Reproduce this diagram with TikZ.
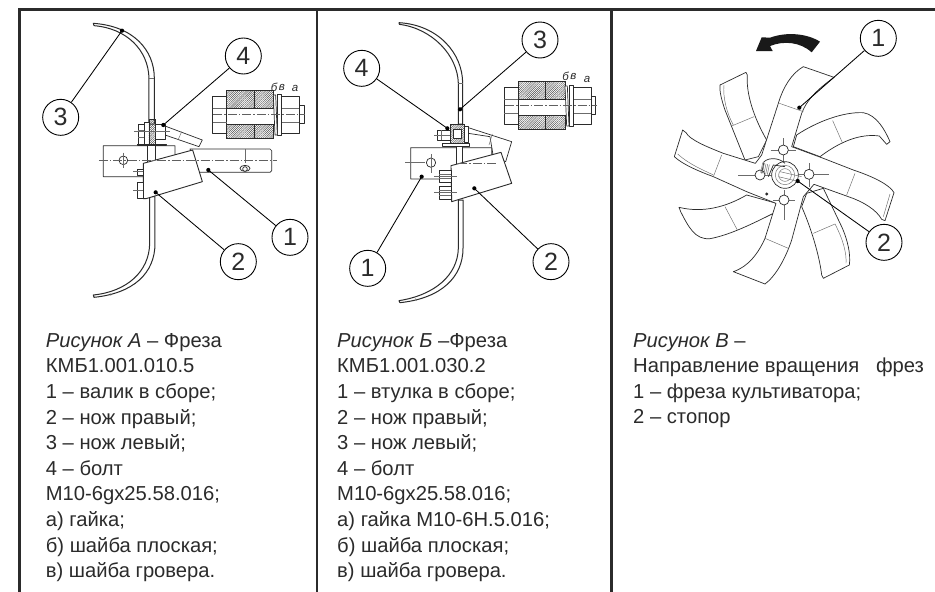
\documentclass[tikz,border=0pt]{standalone}
\usepackage{fontspec}
\setmainfont{Liberation Sans}
\usetikzlibrary{patterns.meta}
\definecolor{ink}{HTML}{2B2B2B}
\tikzset{
  panelA/.style={shift={(0pt,0pt)},x=0.33333pt,y=-0.33333pt},
  panelB/.style={shift={(315pt,0pt)},x=0.33333pt,y=-0.33333pt},
  panelC/.style={shift={(610pt,0pt)},x=0.33333pt,y=-0.33333pt},
  framel/.style={line width=2.4pt,color=ink},
  part/.style={draw=ink,line width=0.7pt,fill=white,line join=round},
  thin part/.style={draw=ink!70,line width=0.45pt},
  centre/.style={draw=ink!75,line width=0.5pt,dash pattern=on 9pt off 2pt on 1.5pt off 2pt},
  callout/.style={circle,draw=black,fill=white,line width=0.9pt,minimum size=36pt,inner sep=0pt,font=\fontsize{25}{26}\selectfont,text=ink},
  pin/.style={circle,fill=black,minimum size=4.2pt,inner sep=0pt},
  leader/.style={draw=black,line width=0.85pt},
  caption/.style={anchor=north west,align=left,inner sep=0pt,text=ink,font=\fontsize{20.2}{25.6}\selectfont},
  hatchblock/.style={draw=ink,line width=0.5pt,pattern={Lines[angle=45,distance=1.5pt,line width=0.45pt]},pattern color=ink!85},
  tiny/.style={font=\fontsize{11.5}{12}\selectfont\itshape,text=ink,inner sep=0pt}
}
\newcommand{\boltsection}{%
  \draw[part] (568,262) rectangle (610,372);
  \draw[thin part] (568,297)--(610,297) (568,340)--(610,340);
  \draw[hatchblock] (610,245) rectangle (692,298);
  \draw[hatchblock] (692,245) rectangle (750,298);
  \draw[hatchblock] (610,345) rectangle (692,388);
  \draw[hatchblock] (692,345) rectangle (750,388);
  \draw[part] (775,262) rectangle (828,372);
  \draw[thin part] (775,297)--(828,297) (775,340)--(828,340);
  \draw[part] (828,288) rectangle (842,342);
  \draw[part] (762,255) rectangle (775,380);
  \draw[part] (750,258) -- (757,258) -- (762,378) -- (755,378) -- cycle;
  \draw[centre] (570,315) -- (846,315);
}
\begin{document}
\begin{tikzpicture}[x=1pt,y=-1pt]
\useasboundingbox (0,0) rectangle (935,592);
\fill[white] (0,0) rectangle (935,592);
% frame
\draw[framel] (19.5,592) -- (19.5,9.5) -- (935,9.5);
\draw[framel] (317,9.5) -- (317,592);
\draw[framel] (611.5,9.5) -- (611.5,592);

% ---------- panel A
\begin{scope}[panelA]
  % section detail
  \begin{scope}[shift={(23.33pt,-9pt)}]
    \boltsection
  \end{scope}
  \node[tiny] (ab) at (822,261) {б};
  \node[tiny] (av) at (846,261) {в};
  \node[tiny] (aa) at (885,265) {а};
  % knife upper
  \draw[part,line width=1pt] (280,70) .. controls (400,78) and (463,150) .. (463,235) -- (463,372) -- (447,372) -- (447,235) .. controls (445,150) and (380,85) .. (282,77) -- cycle;
  \draw[thin part] (447,235) -- (463,235);
  % knife lower
  \draw[part,line width=1pt] (465,590) -- (465,730) .. controls (465,820) and (400,880) .. (282,892) -- (280,885) .. controls (380,875) and (448,815) .. (449,730) -- (449,590) -- cycle;
  \draw[thin part] (330,880) -- (333,887);
  % tilted knife behind
  \draw[part] (495,378) -- (607,420) -- (597,440) -- (495,405) -- cycle;
  \draw[thin part] (545,395) -- (535,418);
  % shaft
  \draw[part] (570,447) -- (810,447) -- (815,452) -- (815,512) -- (810,517) -- (590,517) -- cycle;
  \draw[thin part] (735,447) -- (735,490);
  \draw[part] (735,505) ellipse (15 and 9);
  \draw[part] (735,507) ellipse (7 and 7);
  % bracket
  \draw[part] (310,437) -- (525,437) -- (525,480) -- (430,530) -- (310,530) -- cycle;
  \draw[part] (370,481) circle (13);
  \draw[thin part] (370,458) -- (370,505);
  % central plate and bolt
  \draw[part] (442,435) rectangle (465,495);
  \draw[part] (415,372) rectangle (433,432);
  \draw[thin part] (415,392) -- (433,392) (415,412) -- (433,412);
  \draw[part] (433,368) rectangle (447,432);
  \draw[hatchblock] (447,358) rectangle (465,432);
  \draw[part] (465,372) rectangle (495,418);
  \draw[thin part] (402,395) -- (510,395);
  \draw[part] (412,432) rectangle (500,437);
  % front knife
  \draw[part,line width=0.9pt] (430,490) -- (578,450) -- (607,545) -- (438,596) -- (430,596) -- cycle;
  \draw[part] (413,508) rectangle (430,527);
  \draw[part] (413,548) rectangle (430,595);
  \draw[thin part] (400,515) -- (430,515) (400,570) -- (430,570);
  \draw[centre] (297,482) -- (832,482);
  % callouts
  \node[callout] (a3) at (182,352) {3};
  \node[callout] (a4) at (730,168) {4};
  \node[callout] (a1) at (870,712) {1};
  \node[callout] (a2) at (715,785) {2};
  \node[pin] (a3p) at (366,92) {};
  \node[pin] (a4p) at (490,375) {};
  \node[pin] (a1p) at (625,510) {};
  \node[pin] (a2p) at (467,577) {};
  \draw[leader] (a3) -- (a3p.center);
  \draw[leader] (a4) -- (a4p.center);
  \draw[leader] (a1) -- (a1p.center);
  \draw[leader] (a2) -- (a2p.center);
\end{scope}

% ---------- panel B
\begin{scope}[panelB]
  \boltsection
  \node[tiny] (bb) at (752,230) {б};
  \node[tiny] (bv) at (775,230) {в};
  \node[tiny] (ba) at (816,237) {а};
  % knife upper
  \draw[part,line width=1pt] (252,68) .. controls (370,75) and (443,160) .. (443,250) -- (443,372) -- (430,372) -- (430,250) .. controls (428,165) and (350,85) .. (253,73) -- cycle;
  \draw[thin part] (430,250) -- (443,250);
  % knife lower
  \draw[part,line width=1pt] (444,600) -- (444,745) .. controls (444,830) and (380,895) .. (255,908) -- (252,902) .. controls (360,885) and (428,825) .. (430,745) -- (430,600) -- cycle;
  \draw[thin part] (302,895) -- (305,902);
  % tilted knife behind
  \draw[part] (460,383) -- (590,425) -- (572,485) -- (535,470) -- (525,410) -- (460,400) -- cycle;
  \draw[thin part] (532,402) -- (522,435);
  % bracket
  \draw[part] (287,443) -- (530,443) -- (530,480) -- (420,537) -- (287,537) -- cycle;
  \draw[part] (348,488) circle (14);
  \draw[thin part] (348,463) -- (348,520);
  \draw[thin part] (270,488) -- (330,488);
  % central plate and bolt
  \draw[part] (423,430) rectangle (441,498);
  \draw[part] (368,390) rectangle (405,420);
  \draw[thin part] (358,405) -- (405,405) (380,390) -- (380,420);
  \draw[hatchblock] (405,372) rectangle (448,430);
  \draw[part] (415,388) rectangle (440,414);
  \draw[part] (448,380) rectangle (460,428);
  \draw[part] (382,430) rectangle (462,438);
  % front knife
  \draw[part,line width=0.9pt] (408,497) -- (558,457) -- (590,550) -- (410,605) -- cycle;
  \draw[centre] (430,490) -- (545,490);
  \draw[part] (372,510) rectangle (408,547);
  \draw[part] (372,560) rectangle (408,597);
  \draw[thin part] (372,522) -- (408,522) (372,535) -- (408,535) (372,572) -- (408,572) (372,585) -- (408,585);
  \draw[thin part] (357,528) -- (425,528) (357,578) -- (425,578);
  % callouts
  \node[callout] (b3) at (675,120) {3};
  \node[callout] (b4) at (140,205) {4};
  \node[callout] (b1) at (158,805) {1};
  \node[callout] (b2) at (708,785) {2};
  \node[pin] (b3p) at (435,328) {};
  \node[pin] (b4p) at (397,385) {};
  \node[pin] (b1p) at (320,530) {};
  \node[pin] (b2p) at (478,565) {};
  \draw[leader] (b3) -- (b3p.center);
  \draw[leader] (b4) -- (b4p.center);
  \draw[leader] (b1) -- (b1p.center);
  \draw[leader] (b2) -- (b2p.center);
\end{scope}

% ---------- panel C
\begin{scope}[panelC]
  % rotation arrow
  \fill[black!90] (630,125) .. controls (590,100) and (530,95) .. (480,113) -- (455,112) -- (438,153) -- (488,153) -- (480,138) .. controls (520,122) and (570,125) .. (605,157) -- cycle;
  % rear blades
  \draw[part] (405,480) -- (345,330) .. controls (335,300) and (328,275) .. (330,255) -- (408,217) -- (412,225) .. controls (408,280) and (430,350) .. (470,420) -- (445,470) -- cycle;
  \draw[thin part] (365,378) -- (432,350);
  \draw[thin part] (342,255) .. controls (338,290) and (350,340) .. (370,375);
  \draw[part] (560,405) .. controls (620,365) and (700,335) .. (760,338) .. controls (800,345) and (825,390) .. (840,425) -- (830,433) -- (808,408) .. controls (750,400) and (690,425) .. (630,470) -- (550,440) -- cycle;
  \draw[thin part] (668,362) -- (698,430);
  \draw[part] (640,565) -- (695,680) .. controls (715,725) and (722,765) .. (718,795) -- (640,835) -- (635,825) .. controls (630,780) and (610,700) .. (575,620) -- (590,580) -- cycle;
  \draw[thin part] (610,700) -- (675,672);
  \draw[thin part] (708,790) .. controls (710,760) and (700,720) .. (675,672);
  \draw[part] (410,585) .. controls (350,620) and (280,640) .. (207,622) -- (212,635) .. controls (235,680) and (255,720) .. (300,716) .. controls (360,705) and (430,670) .. (490,640) -- (500,610) -- cycle;
  \draw[thin part] (345,620) -- (382,690);
  % front long blades and hub plate
  \draw[part] (455,465) -- (505,310) .. controls (520,260) and (545,220) .. (580,200) -- (672,232) .. controls (620,270) and (590,300) .. (575,340) -- (545,440) -- (640,475) -- (730,510) .. controls (790,530) and (840,555) .. (852,578) -- (825,662) -- (815,658) .. controls (800,630) and (760,605) .. (715,590) -- (612,553) -- (580,590) -- (545,720) .. controls (525,780) and (495,830) .. (465,852) -- (370,815) .. controls (415,800) and (445,760) .. (465,715) -- (498,610) -- (410,575) -- (310,530) .. controls (270,515) and (220,495) .. (193,470) -- (218,390) -- (228,398) .. controls (240,420) and (290,440) .. (340,460) -- (436,490) -- cycle;
  \draw[thin part] (508,310) -- (580,335);
  \draw[thin part] (465,715) -- (535,745);
  \draw[thin part] (335,465) -- (310,530);
  \draw[thin part] (735,520) -- (710,585);
  \draw[thin part] (203,462) .. controls (240,495) and (280,510) .. (310,525);
  \draw[thin part] (840,582) -- (820,650);
  % hub
  \draw[thin part] (520,415) -- (520,490) (482,450) -- (558,450);
  \draw[thin part] (385,525) -- (490,525);
  \draw[thin part] (560,523) -- (658,523) (597,490) -- (597,560);
  \draw[thin part] (522,570) -- (522,660) (490,600) -- (555,600);
  \foreach \px/\py in {520/450,450/525,597/523,522/600}{
    \draw[part] (\px,\py) circle (15);
  }
  \draw[part] (525,525) circle (40);
  \draw[thin part] (525,525) circle (29);
  \draw[thin part] (525,525) circle (19);
  \draw[thin part] (510,515) -- (575,530) (505,530) -- (568,545);
  \draw[part,fill=none] (455,520) -- (462,485) .. controls (480,470) and (510,475) .. (525,490);
  \draw[part,fill=none] (475,530) -- (490,495) -- (525,500);
  \foreach \s in {0,5,...,20}{
    \draw[thin part] (458+\s,488+\s*0.3) -- (452+\s,518+\s*0.3);
  }
  \fill[ink] (470,582) circle (5);
  % callouts
  \node[callout] (c1) at (805,115) {1};
  \node[callout] (c2) at (822,727) {2};
  \node[pin] (c1p) at (568,323) {};
  \node[pin] (c2p) at (563,543) {};
  \draw[leader] (c1) -- (c1p.center);
  \draw[leader] (c2) -- (c2p.center);
\end{scope}

% ---------- captions
\node[caption] (capA) at (45.7,333) {\textit{Рисунок А} – Фреза\\КМБ1.001.010.5\\1 – валик в сборе;\\2 – нож правый;\\3 – нож левый;\\4 – болт\\М10-6gх25.58.016;\\а) гайка;\\б) шайба плоская;\\в) шайба гровера.};
\node[caption] (capB) at (337,333) {\textit{Рисунок Б} –Фреза\\КМБ1.001.030.2\\1 – втулка в сборе;\\2 – нож правый;\\3 – нож левый;\\4 – болт\\М10-6gх25.58.016;\\а) гайка М10-6Н.5.016;\\б) шайба плоская;\\в) шайба гровера.};
\node[caption] (capC) at (633,333) {\textit{Рисунок В} –\\Направление вращения \ \ фрез\\1 – фреза культиватора;\\2 – стопор};
\end{tikzpicture}
\end{document}
